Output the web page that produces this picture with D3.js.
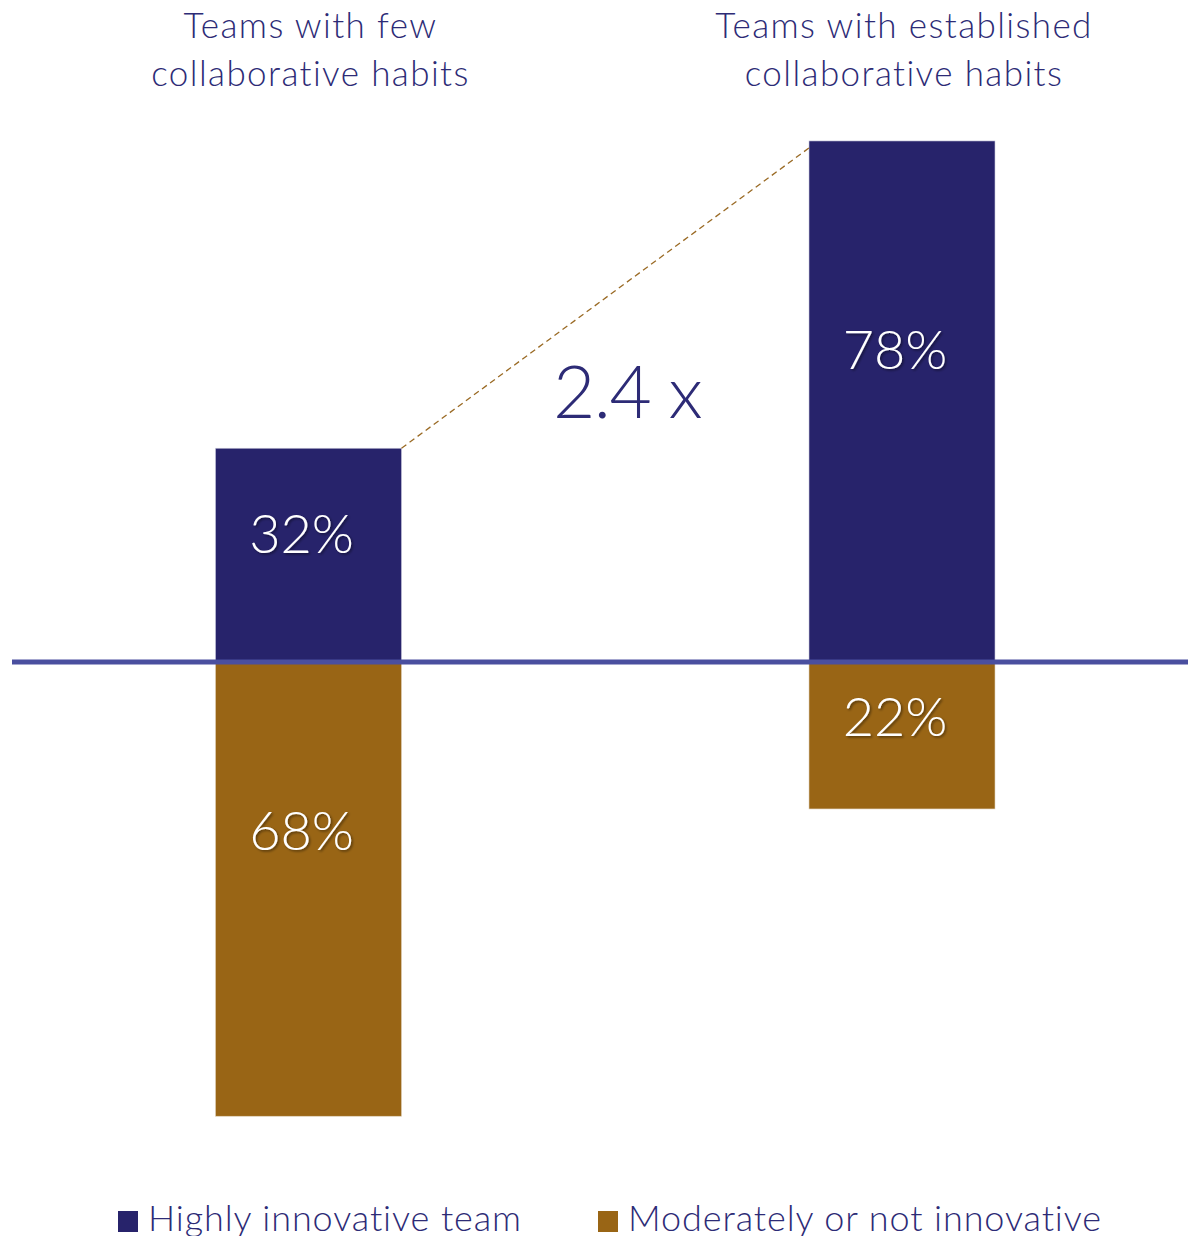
<!DOCTYPE html>
<html>
<head>
<meta charset="utf-8">
<script src="https://cdn.jsdelivr.net/npm/d3@7/dist/d3.min.js"></script>
<style>
  html, body { margin: 0; padding: 0; background: #fff; }
  svg { display: block; font-family: Lato, "Open Sans", sans-serif; font-weight: 300; }
</style>
</head>
<body>
<svg id="chart" width="1188" height="1236"></svg>
<script>
// Share of teams by innovation level, split by collaborative habits
const categories = ["few", "established"];
const categoryTitles = [
  ["Teams with few", "collaborative habits"],
  ["Teams with established", "collaborative habits"]
];
const highlyInnovative = [32, 78];
const moderatelyOrNot = [68, 22];
const seriesNames = ["Highly innovative team", "Moderately or not innovative"];
const ratioLabel = "2.4 x";

const NAVY = "#27236b";
const BROWN = "#996515";
const AXIS = "#4a4f9f";
const TEXT = "#2d2b76";

const svg = d3.select("#chart");

const defs = svg.append("defs");
const shadow = defs.append("filter").attr("id", "labelShadow")
  .attr("x", "-20%").attr("y", "-20%").attr("width", "140%").attr("height", "140%");
shadow.append("feDropShadow")
  .attr("dx", 1.5).attr("dy", 1.5).attr("stdDeviation", 1)
  .attr("flood-color", "#000").attr("flood-opacity", 0.45);

const x = d3.scalePoint().domain(categories).range([308.5, 902]);
const barWidth = 186;
// percentage points measured up (positive) and down (negative) from the zero line
const y = d3.scaleLinear().domain([-100, 100]).range([662 + 668, 662 - 668]);

// bars above the line
svg.append("g").selectAll("rect")
  .data(categories)
  .join("rect")
  .attr("x", d => x(d) - barWidth / 2)
  .attr("width", barWidth)
  .attr("y", (d, i) => y(highlyInnovative[i]))
  .attr("height", (d, i) => y(0) - y(highlyInnovative[i]))
  .attr("fill", NAVY)
  .attr("stroke", "#c9c9dc").attr("stroke-width", 0.6);

// bars below the line
svg.append("g").selectAll("rect")
  .data(categories)
  .join("rect")
  .attr("x", d => x(d) - barWidth / 2)
  .attr("width", barWidth)
  .attr("y", y(0))
  .attr("height", (d, i) => y(-moderatelyOrNot[i]) - y(0))
  .attr("fill", BROWN)
  .attr("stroke", "#e0d2bc").attr("stroke-width", 0.6);

// zero line
svg.append("line")
  .attr("x1", 12).attr("x2", 1188)
  .attr("y1", y(0)).attr("y2", y(0))
  .attr("stroke", AXIS).attr("stroke-width", 5);

// connector between the two highly-innovative bars
svg.append("line")
  .attr("x1", x(categories[0]) + barWidth / 2)
  .attr("y1", y(highlyInnovative[0]))
  .attr("x2", x(categories[1]) - barWidth / 2)
  .attr("y2", y(highlyInnovative[1]) + 7)
  .attr("stroke", "#9a6a24").attr("stroke-width", 1.3)
  .attr("stroke-dasharray", "6,4");

// value labels
const labelOffset = -7;
svg.append("g").selectAll("text")
  .data(categories)
  .join("text")
  .attr("x", d => x(d) + labelOffset)
  .attr("y", (d, i) => y(highlyInnovative[i]) + 0.4 * (y(0) - y(highlyInnovative[i])))
  .attr("dy", "0.36em")
  .attr("text-anchor", "middle")
  .attr("fill", "#fff")
  .attr("font-size", 54)
  .attr("filter", "url(#labelShadow)")
  .text((d, i) => highlyInnovative[i] + "%");

svg.append("g").selectAll("text")
  .data(categories)
  .join("text")
  .attr("x", d => x(d) + labelOffset)
  .attr("y", (d, i) => y(0) + 0.37 * (y(-moderatelyOrNot[i]) - y(0)))
  .attr("dy", "0.36em")
  .attr("text-anchor", "middle")
  .attr("fill", "#fff")
  .attr("font-size", 54)
  .attr("filter", "url(#labelShadow)")
  .text((d, i) => moderatelyOrNot[i] + "%");

// ratio annotation
svg.append("text")
  .attr("x", 553).attr("y", 418)
  .attr("text-anchor", "start")
  .attr("fill", TEXT)
  .attr("font-size", 73)
  .attr("letter-spacing", -1.5)
  .text(ratioLabel);

// category titles
const titles = svg.append("g").selectAll("text")
  .data(categories)
  .join("text")
  .attr("text-anchor", "middle")
  .attr("fill", TEXT)
  .attr("font-size", 35)
  .attr("letter-spacing", 1.4);
titles.selectAll("tspan")
  .data((d, i) => categoryTitles[i].map(t => ({ t, cx: x(d) })))
  .join("tspan")
  .attr("x", d => d.cx + 2)
  .attr("y", (d, j) => 38 + j * 48)
  .text(d => d.t);

// legend
const legendX = [118, 598];
const legend = svg.append("g").selectAll("g")
  .data(seriesNames)
  .join("g")
  .attr("transform", (d, i) => `translate(${legendX[i]},1211)`);
legend.append("rect")
  .attr("width", 20).attr("height", 21)
  .attr("fill", (d, i) => i === 0 ? NAVY : BROWN);
legend.append("text")
  .attr("x", 30).attr("y", 20)
  .attr("fill", TEXT)
  .attr("font-size", 36)
  .attr("letter-spacing", 0.9)
  .text(d => d);
</script>
</body>
</html>
